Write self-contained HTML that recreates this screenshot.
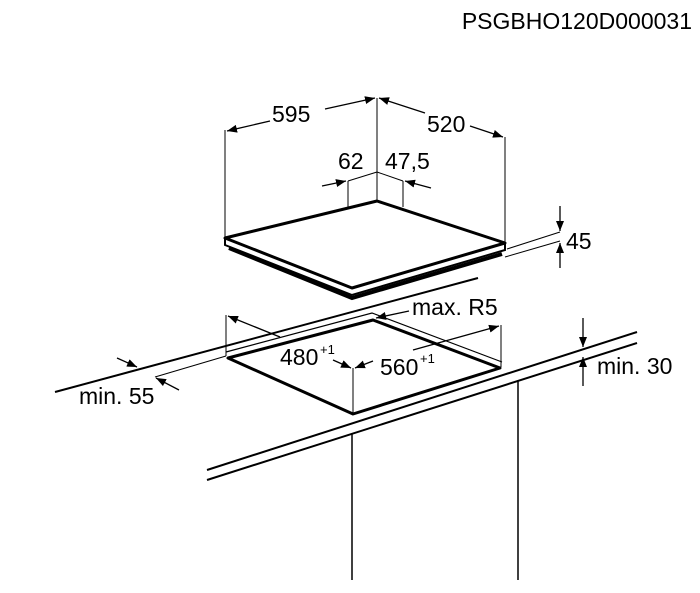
<!DOCTYPE html>
<html><head><meta charset="utf-8"><style>
html,body{margin:0;padding:0;background:#fff;}
svg{display:block;}
text{font-family:"Liberation Sans",Arial,sans-serif;fill:#000;}
</style></head><body>
<svg width="700" height="593" viewBox="0 0 700 593" xmlns="http://www.w3.org/2000/svg">
<defs>
<marker id="a" viewBox="0 0 10 10" refX="10" refY="5" markerWidth="10" markerHeight="10" orient="auto-start-reverse" markerUnits="userSpaceOnUse">
<path d="M0,1 L10,5 L0,9 z" fill="#000"/></marker>
</defs>
<text x="692" y="29" font-size="23" text-anchor="end">PSGBHO120D000031</text>

<g stroke="#000" fill="none">
<!-- hob -->
<line x1="225" y1="238" x2="225" y2="130" stroke-width="1"/>
<line x1="377" y1="201" x2="377" y2="98" stroke-width="1"/>
<line x1="505" y1="243" x2="505" y2="137" stroke-width="1"/>
<line x1="270" y1="121" x2="227" y2="131" stroke-width="1.3" marker-end="url(#a)"/>
<line x1="325" y1="109" x2="375" y2="98" stroke-width="1.3" marker-end="url(#a)"/>
<line x1="425" y1="113" x2="379" y2="98" stroke-width="1.3" marker-end="url(#a)"/>
<line x1="470" y1="126" x2="503" y2="137" stroke-width="1.3" marker-end="url(#a)"/>
<!-- 62/47.5 -->
<line x1="348" y1="181" x2="377" y2="172" stroke-width="1"/>
<line x1="377" y1="172" x2="403" y2="181" stroke-width="1"/>
<line x1="348" y1="181" x2="348" y2="208" stroke-width="1"/>
<line x1="403" y1="181" x2="403" y2="207" stroke-width="1"/>
<line x1="322" y1="186" x2="346" y2="181" stroke-width="1.3" marker-end="url(#a)"/>
<line x1="431" y1="188" x2="405" y2="181" stroke-width="1.3" marker-end="url(#a)"/>
<path d="M357,212 L365,215 M371,216 L381,216 M387,215 L394,211" stroke-width="1.5"/>
<!-- hob plate -->
<path d="M225,238 L377,201 L505,243 L352,288 Z" stroke-width="3" fill="#fff" stroke-linejoin="round"/>
<path d="M225,238 L225,245 L352,295 L505,250 L505,243" stroke-width="2"/>
<path d="M229,248 L352,298 L502,254" stroke-width="4"/>
<!-- 45 -->
<line x1="507" y1="249" x2="560" y2="232" stroke-width="1"/>
<line x1="505" y1="257" x2="560" y2="241" stroke-width="1"/>
<line x1="560" y1="206" x2="560" y2="231" stroke-width="1.3" marker-end="url(#a)"/>
<line x1="560" y1="268" x2="560" y2="243" stroke-width="1.3" marker-end="url(#a)"/>
<!-- worktop top -->
<line x1="55" y1="392" x2="478" y2="278" stroke-width="2"/>
<line x1="155" y1="377" x2="226" y2="356" stroke-width="1"/>
<line x1="117" y1="358" x2="137" y2="367" stroke-width="1.3" marker-end="url(#a)"/>
<line x1="179" y1="390" x2="156" y2="378" stroke-width="1.3" marker-end="url(#a)"/>
<!-- cutout -->
<path d="M226,352 L372,313 L502,362" stroke-width="1.2"/>
<path d="M228,358 L373,320 L500,368 L353,414 Z" stroke-width="3" stroke-linejoin="round"/>
<line x1="226" y1="315" x2="226" y2="356" stroke-width="1"/>
<line x1="501" y1="325" x2="501" y2="367" stroke-width="1"/>
<line x1="280" y1="337" x2="228" y2="316" stroke-width="1.3" marker-end="url(#a)"/>
<line x1="413" y1="350" x2="499" y2="326" stroke-width="1.3" marker-end="url(#a)"/>
<line x1="353" y1="368" x2="353" y2="413" stroke-width="1"/>
<line x1="333" y1="360" x2="351" y2="368" stroke-width="1.3" marker-end="url(#a)"/>
<line x1="373" y1="361" x2="355" y2="368" stroke-width="1.3" marker-end="url(#a)"/>
<line x1="409" y1="311" x2="376" y2="318" stroke-width="1.3" marker-end="url(#a)"/>
<!-- front edge -->
<line x1="207" y1="470" x2="637" y2="332" stroke-width="2"/>
<line x1="207" y1="480" x2="637" y2="343" stroke-width="2"/>
<line x1="352" y1="433" x2="352" y2="580" stroke-width="1.5"/>
<line x1="518" y1="380" x2="518" y2="580" stroke-width="1.5"/>
<line x1="583" y1="318" x2="583" y2="347" stroke-width="1.3" marker-end="url(#a)"/>
<line x1="583" y1="386" x2="583" y2="357" stroke-width="1.3" marker-end="url(#a)"/>
</g>

<text x="272" y="122" font-size="23">595</text>
<text x="427" y="132" font-size="23">520</text>
<text x="338" y="169" font-size="23">62</text>
<text x="385" y="169" font-size="23">47,5</text>
<text x="566" y="249" font-size="23">45</text>
<text x="412" y="315" font-size="23">max. R5</text>
<text x="280" y="365" font-size="23">480</text>
<text x="320" y="354" font-size="13">+1</text>
<text x="380" y="375" font-size="23">560</text>
<text x="420" y="363" font-size="13">+1</text>
<text x="597" y="374" font-size="23">min. 30</text>
<text x="79" y="404" font-size="23">min. 55</text>
</svg>
</body></html>
